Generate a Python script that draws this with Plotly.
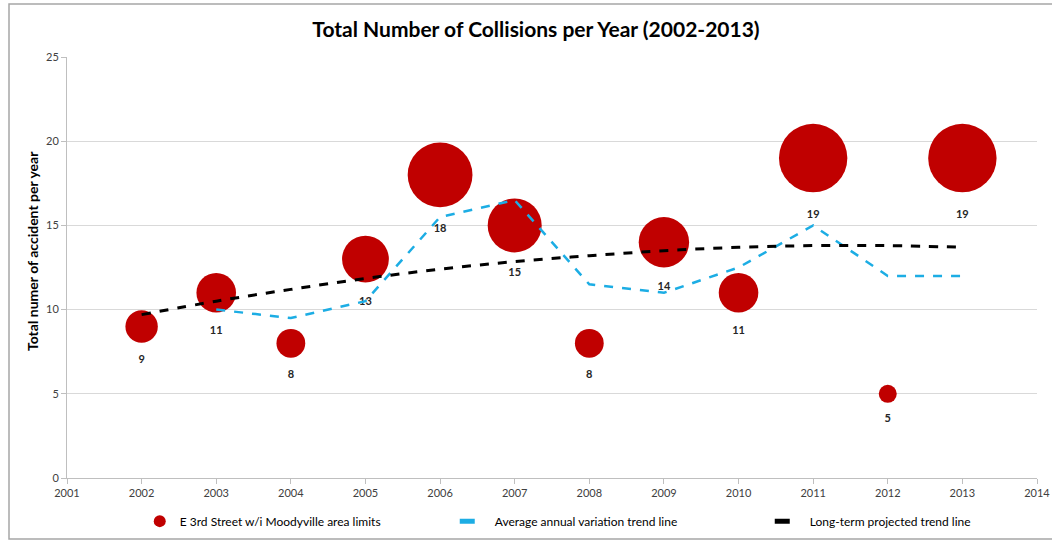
import plotly.graph_objects as go

years = [2002, 2003, 2004, 2005, 2006, 2007, 2008, 2009, 2010, 2011, 2012, 2013]
collisions = [9, 11, 8, 13, 18, 15, 8, 14, 11, 19, 5, 19]

avg_years = [2003, 2004, 2005, 2006, 2007, 2008, 2009, 2010, 2011, 2012, 2013]
avg_trend = [10, 9.5, 10.5, 15.5, 16.5, 11.5, 11, 12.5, 15, 12, 12]

long_years = [2002, 2003, 2004, 2005, 2006, 2007, 2008, 2009, 2010, 2011, 2012, 2013]
long_trend = [9.7, 10.5, 11.2, 11.85, 12.4, 12.85, 13.2, 13.5, 13.7, 13.8, 13.8, 13.7]

x_ticks = list(range(2001, 2015))
y_ticks = [0, 5, 10, 15, 20, 25]

FONT = "Lato"
bubble_scale = 3.6
sizes = [v * bubble_scale for v in collisions]

fig = go.Figure()
fig.add_trace(go.Scatter(
    x=years, y=collisions, mode="markers",
    name="E 3rd Street w/i Moodyville area limits",
    marker=dict(color="#C00000", size=sizes, sizemode="diameter",
                line=dict(width=0), opacity=1),
))
# labels under each bubble (invisible, slightly larger markers push text below the bubble edge)
fig.add_trace(go.Scatter(
    x=years, y=collisions, mode="markers+text", showlegend=False, hoverinfo="skip",
    marker=dict(size=[s + 12 for s in sizes], sizemode="diameter", opacity=0),
    text=[str(v) for v in collisions], textposition="bottom center",
    textfont=dict(family=FONT, size=11, color="#262626", weight="bold"),
))
fig.add_trace(go.Scatter(
    x=avg_years, y=avg_trend, mode="lines",
    name="Average annual variation trend line",
    line=dict(color="#1CADE4", width=2.5, dash="dash"),
))
fig.add_trace(go.Scatter(
    x=long_years, y=long_trend, mode="lines",
    name="Long-term projected trend line",
    line=dict(color="#000000", width=3, dash="dash", shape="spline"),
))

fig.update_layout(
    width=1052, height=540,
    margin=dict(l=67, r=15, t=57, b=62, autoexpand=False),
    paper_bgcolor="white", plot_bgcolor="white",
    font=dict(family=FONT, color="#404040"),
    title=dict(text="<b>Total Number of Collisions per Year (2002-2013)</b>",
               x=0.5095, xanchor="center", y=0.945, yanchor="middle",
               font=dict(family=FONT, size=21, color="#000000")),
    xaxis=dict(range=[2001, 2014], tickvals=x_ticks, ticktext=[str(t) for t in x_ticks],
               showgrid=False, zeroline=False, showline=True, linecolor="#BFBFBF",
               ticks="outside", tickcolor="#BFBFBF", ticklen=5,
               tickfont=dict(family=FONT, size=11, color="#404040")),
    yaxis=dict(range=[0, 25], tickvals=y_ticks, showgrid=True, gridcolor="#D9D9D9",
               zeroline=False, showline=True, linecolor="#BFBFBF",
               ticks="outside", tickcolor="#BFBFBF", ticklen=5,
               tickfont=dict(family=FONT, size=11, color="#404040")),
    annotations=[dict(text="<b>Total numer of accident per year</b>", textangle=-90,
                      xref="paper", yref="paper", x=-35/970, y=227/421,
                      xanchor="center", yanchor="middle", showarrow=False,
                      font=dict(family=FONT, size=14, color="#000000"))],
    legend=dict(orientation="h", x=0.075, xanchor="left", y=-0.068, yanchor="top",
                entrywidth=270, entrywidthmode="pixels", itemsizing="constant",
                bgcolor="rgba(0,0,0,0)",
                font=dict(family=FONT, size=12, color="#000000")),
    shapes=[dict(type="rect", xref="paper", yref="paper",
                 x0=-58/970, x1=1 + 30/970, y0=-61/421, y1=1 + 53/421,
                 line=dict(color="#A6A6A6", width=1.5), layer="below")],
)

fig.write_html("out.html")
